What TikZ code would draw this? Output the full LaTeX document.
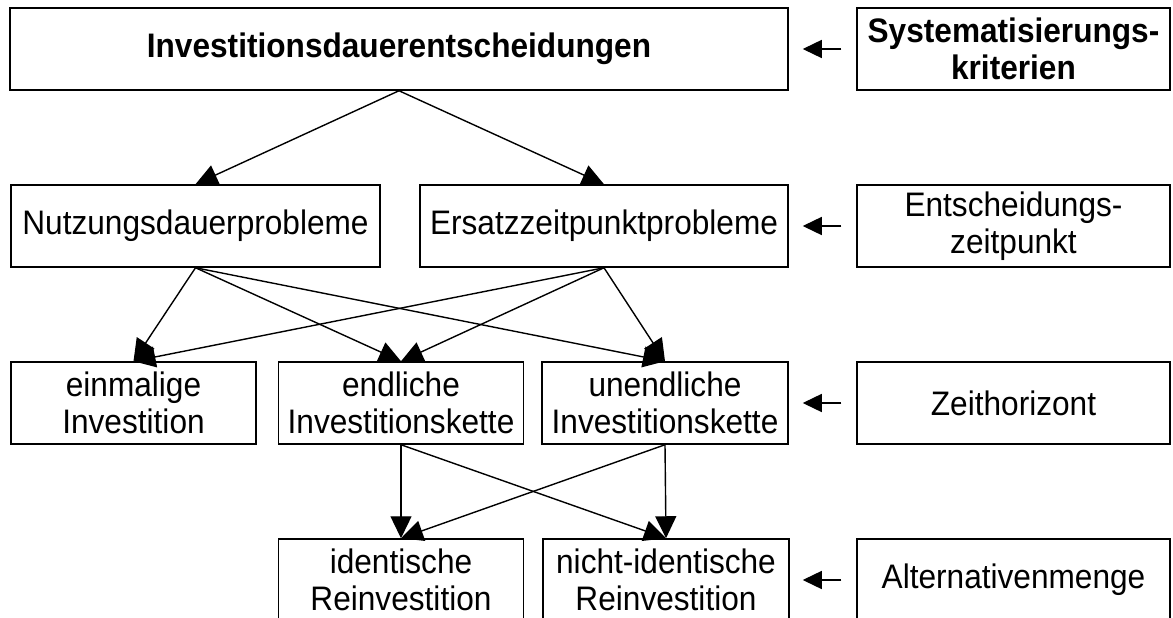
\documentclass[tikz,border=0pt]{standalone}
\usepackage{fontspec}
\setmainfont{Liberation Sans}[FakeStretch=0.93]
\usetikzlibrary{arrows.meta}

\tikzset{
  box/.style={draw, line width=1.5pt, inner sep=0pt, align=center,
              minimum height=82pt, font=\fontsize{34}{37}\selectfont},
  conn/.style={line width=1.4pt, -{Triangle[length=22pt,width=21pt]}},
  side/.style={line width=1.4pt, -{Triangle[length=19pt,width=18pt]}},
}

\begin{document}
\begin{tikzpicture}[x=1pt,y=-1pt]
  \clip (0,0) rectangle (1173,618);
  \fill[white] (0,0) rectangle (1173,618);

  % decision hierarchy
  \node[box, minimum width=778pt] (top) at (399,49) {\bfseries Investitionsdauerentscheidungen};

  \node[box, minimum width=369pt] (nutz) at (195.5,226) {Nutzungsdauerprobleme};
  \node[box, minimum width=368pt] (ersatz) at (604,226) {Ersatzzeitpunktprobleme};

  \node[box, minimum width=245pt] (einm) at (133.5,403) {einmalige\\Investition};
  \node[box, minimum width=245pt] (endl) at (401,403) {endliche\\Investitionskette};
  \node[box, minimum width=246pt] (unendl) at (665,403) {unendliche\\Investitionskette};

  \node[box, minimum width=245pt] (ident) at (401,580) {identische\\Reinvestition};
  \node[box, minimum width=246pt] (nident) at (666,580) {nicht-identische\\Reinvestition};

  % criteria column
  \node[box, minimum width=313pt] (krit) at (1013.5,49) {\bfseries Systematisierungs-\\\bfseries kriterien};
  \node[box, minimum width=313pt] (zeitp) at (1013.5,226) {Entscheidungs-\\zeitpunkt};
  \node[box, minimum width=313pt] (horiz) at (1013.5,403) {Zeithorizont};
  \node[box, minimum width=313pt] (menge) at (1013.5,580) {Alternativenmenge};

  % hierarchy connectors
  \draw[conn] (top.south) -- (nutz.north);
  \draw[conn] (top.south) -- (ersatz.north);

  \draw[conn] (nutz.south) -- (einm.north);
  \draw[conn] (nutz.south) -- (endl.north);
  \draw[conn] (nutz.south) -- (unendl.north);
  \draw[conn] (ersatz.south) -- (einm.north);
  \draw[conn] (ersatz.south) -- (endl.north);
  \draw[conn] (ersatz.south) -- (unendl.north);

  \draw[conn] (endl.south) -- (ident.north);
  \draw[conn] (endl.south) -- (nident.north);
  \draw[conn] (unendl.south) -- (ident.north);
  \draw[conn] (unendl.south) -- (nident.north);

  % criteria pointers
  \draw[side] ([xshift=-15pt]krit.west) -- ([xshift=14pt]top.east);
  \draw[side] ([xshift=-15pt]zeitp.west) -- ([xshift=14pt]ersatz.east);
  \draw[side] ([xshift=-15pt]horiz.west) -- ([xshift=14pt]unendl.east);
  \draw[side] ([xshift=-15pt]menge.west) -- ([xshift=13pt]nident.east);
\end{tikzpicture}
\end{document}
